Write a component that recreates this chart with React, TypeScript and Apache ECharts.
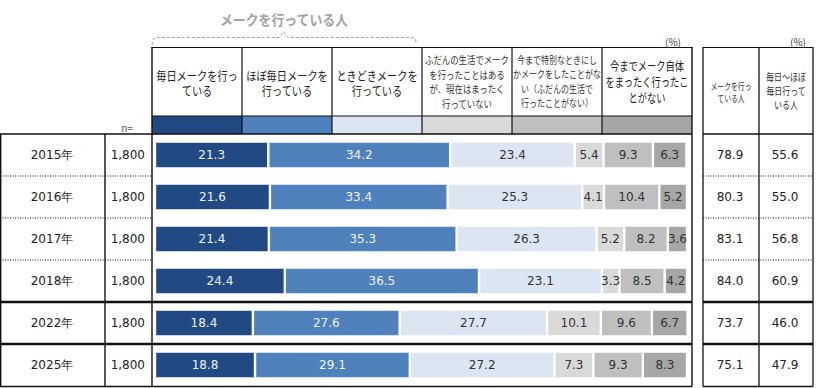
import React, { useEffect, useRef } from "react";
import * as echarts from "echarts";

const years = ["2015年", "2016年", "2017年", "2018年", "2022年", "2025年"];
const sampleSizes = ["1,800", "1,800", "1,800", "1,800", "1,800", "1,800"];

const everyDay = [21.3, 21.6, 21.4, 24.4, 18.4, 18.8];
const almostEveryDay = [34.2, 33.4, 35.3, 36.5, 27.6, 29.1];
const sometimes = [23.4, 25.3, 26.3, 23.1, 27.7, 27.2];
const usedToNotNow = [5.4, 4.1, 5.2, 3.3, 10.1, 7.3];
const onlySpecial = [9.3, 10.4, 8.2, 8.5, 9.6, 9.3];
const neverDone = [6.3, 5.2, 3.6, 4.2, 6.7, 8.3];

const makeupUsers = ["78.9", "80.3", "83.1", "84.0", "73.7", "75.1"];
const dailyUsers = ["55.6", "55.0", "56.8", "60.9", "46.0", "47.9"];

const seriesNames = [
  "毎日メークを行っている",
  "ほぼ毎日メークを行っている",
  "ときどきメークを行っている",
  "ふだんの生活でメークを行ったことはあるが、現在はまったく行っていない",
  "今まで特別なときにしかメークをしたことがない（ふだんの生活で行ったことがない）",
  "今までメーク自体をまったく行ったことがない",
];
const headerLines = [
  "毎日メークを行っ\nている",
  "ほぼ毎日メークを\n行っている",
  "ときどきメークを\n行っている",
  "ふだんの生活でメーク\nを行ったことはある\nが、現在はまったく\n行っていない",
  "今まで特別なときにし\nかメークをしたことがな\nい（ふだんの生活で\n行ったことがない）",
  "今までメーク自体\nをまったく行ったこ\nとがない",
];
const rightHeaders = ["メークを行っ\nている人", "毎日～ほぼ\n毎日行って\nいる人"];
const groupTitle = "メークを行っている人";

const colors = ["#214A84", "#4F81BD", "#DCE6F3", "#D9D9D9", "#BFBFBF", "#A6A6A6"];
const labelColors = ["#EEF3FB", "#EEF3FB", "#333333", "#333333", "#333333", "#333333"];

const seriesData = [everyDay, almostEveryDay, sometimes, usedToNotNow, onlySpecial, neverDone];

export default function App() {
  const ref = useRef<HTMLDivElement>(null);
  useEffect(() => {
    if (!ref.current) return;
    const chart = echarts.init(ref.current, undefined, { renderer: "svg" });
    const num = "DejaVu Sans";
    const jp = "Noto Sans CJK JP";

    const L = (x1: number, y1: number, x2: number, y2: number, lw = 1.2, dash?: number[]) => ({
      type: "line",
      shape: { x1, y1, x2, y2 },
      style: { stroke: "#111", lineWidth: lw, lineDash: dash },
      silent: true,
    });
    const T = (
      text: string,
      x: number,
      y: number,
      fontSize: number,
      lineHeight: number,
      scaleX: number,
      fill = "#222",
      fontWeight = "normal"
    ) => ({
      type: "text",
      x,
      y,
      scaleX,
      silent: true,
      style: {
        text,
        fontSize,
        lineHeight,
        fontFamily: jp,
        fontWeight,
        fill,
        align: "center",
        verticalAlign: "middle",
      },
    });

    const colX = [152, 242, 332, 422, 512, 602, 692];
    const rowY = [134, 176, 218, 260, 302, 344, 386];
    const graphics: any[] = [];

    // swatches
    for (let i = 0; i < 6; i++) {
      graphics.push({
        type: "rect",
        silent: true,
        shape: { x: colX[i], y: 116, width: 90, height: 18 },
        style: { fill: colors[i] },
      });
    }
    // header table lines
    graphics.push(L(151.5, 47.5, 692.5, 47.5));
    graphics.push(L(152, 116, 692, 116, 1));
    for (let i = 1; i < 6; i++) graphics.push(L(colX[i], 47.5, colX[i], 134));
    graphics.push(L(152, 47, 152, 386.5, 1.4));
    graphics.push(L(692, 47, 692, 386.5, 1.4));
    graphics.push(L(0, 134, 692, 134, 1.5));
    // left table
    graphics.push(L(0.7, 134, 0.7, 386.5, 1.4));
    graphics.push(L(105, 134, 105, 386.5, 1.4));
    for (const y of [rowY[1], rowY[2], rowY[3]]) graphics.push(L(0, y, 152, y, 1, [1, 1.5]));
    for (const y of [rowY[4], rowY[5]]) graphics.push(L(0, y, 692, y, 2.6));
    graphics.push(L(0, 386.5, 692, 386.5, 1.5));
    // right table
    graphics.push(L(703, 47.5, 813, 47.5));
    graphics.push(L(703, 47, 703, 386.5, 1.3));
    graphics.push(L(759, 47, 759, 386.5, 1.3));
    graphics.push(L(813, 47, 813, 386.5, 1.3));
    graphics.push(L(703, 134, 813, 134, 1.5));
    for (const y of [rowY[1], rowY[2], rowY[3]]) graphics.push(L(703, y, 813, y, 1, [1, 1.5]));
    for (const y of [rowY[4], rowY[5]]) graphics.push(L(703, y, 813, y, 2.6));
    graphics.push(L(703, 386.5, 813, 386.5, 1.5));

    // header texts
    graphics.push(T(headerLines[0], 197, 83, 12, 15, 0.85));
    graphics.push(T(headerLines[1], 287, 83, 12, 15, 0.85));
    graphics.push(T(headerLines[2], 377, 83, 12, 15, 0.85));
    graphics.push(T(headerLines[3], 467, 81.5, 10, 14.5, 0.84, "#333"));
    graphics.push(T(headerLines[4], 557, 81.5, 10, 14.5, 0.8, "#333"));
    graphics.push(T(headerLines[5], 647, 81.5, 12.5, 16, 0.74));
    graphics.push(T(rightHeaders[0], 731, 91.5, 9.5, 12, 0.72, "#333"));
    graphics.push(T(rightHeaders[1], 786, 91, 10, 14, 0.8, "#333"));
    graphics.push(T("(%)", 673, 41, 10, 12, 1, "#444"));
    graphics.push(T("(%)", 798, 41, 10, 12, 1, "#444"));
    graphics.push(T("n=", 127, 127, 10, 12, 1, "#555"));
    graphics.push(T(groupTitle, 284, 19, 14, 16, 0.92, "#A3A3A3", "bold"));
    // brace
    graphics.push({
      type: "polyline",
      silent: true,
      shape: {
        points: [
          [152, 45],
          [153, 39.5],
          [156, 37.5],
          [279, 37.5],
          [283.5, 31.5],
          [288, 37.5],
          [412, 37.5],
          [415.5, 39.5],
          [416.5, 44],
        ],
      },
      style: { stroke: "#A0A0A0", lineWidth: 1, lineDash: [3, 2], fill: null },
    });

    const baseY = {
      type: "category",
      data: years,
      inverse: true,
      axisLine: { show: false },
      axisTick: { show: false },
      splitLine: { show: false },
    };

    chart.setOption({
      animation: false,
      grid: { left: 155, top: 134, width: 532, height: 252, containLabel: false },
      xAxis: { type: "value", min: 0, max: 100, show: false },
      yAxis: [
        {
          ...baseY,
          position: "left",
          axisLabel: { margin: 103, align: "center", fontSize: 12, color: "#222", fontFamily: num },
        },
        {
          ...baseY,
          position: "left",
          axisLabel: {
            margin: 10,
            align: "right",
            fontSize: 12,
            color: "#222",
            fontFamily: num,
            formatter: (_v: string, i: number) => sampleSizes[i],
          },
        },
        {
          ...baseY,
          position: "right",
          axisLabel: {
            margin: 43,
            align: "center",
            fontSize: 12,
            color: "#222",
            fontFamily: num,
            formatter: (_v: string, i: number) => makeupUsers[i],
          },
        },
        {
          ...baseY,
          position: "right",
          axisLabel: {
            margin: 98,
            align: "center",
            fontSize: 12,
            color: "#222",
            fontFamily: num,
            formatter: (_v: string, i: number) => dailyUsers[i],
          },
        },
      ],
      series: seriesData.map((d, i) => ({
        name: seriesNames[i],
        type: "bar",
        stack: "total",
        yAxisIndex: 0,
        barWidth: 27,
        data: d,
        itemStyle: { color: colors[i], borderColor: "#ffffff", borderWidth: 1.2 },
        label: {
          show: true,
          position: "inside",
          fontSize: 12,
          fontFamily: num,
          color: labelColors[i],
          formatter: (p: any) => Number(p.value).toFixed(1),
        },
      })),
      graphic: graphics,
    });
    return () => chart.dispose();
  }, []);
  return (
    <div
      ref={ref}
      style={{ position: "absolute", left: 0, top: 0, width: 816, height: 388 }}
    />
  );
}
